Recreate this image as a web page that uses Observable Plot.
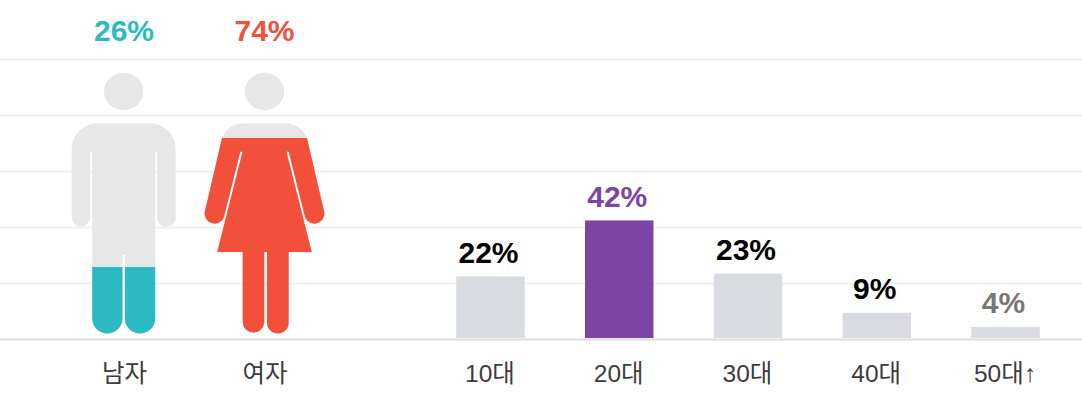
<!DOCTYPE html>
<html>
<head>
<meta charset="utf-8">
<script src="https://cdn.jsdelivr.net/npm/d3@7"></script>
<script src="https://cdn.jsdelivr.net/npm/@observablehq/plot@0.6"></script>
<style>
html,body{margin:0;padding:0;background:#fff;}
#chart{display:flex;width:1082px;height:406px;overflow:hidden;}
#chart svg{display:block;flex:none;}
</style>
</head>
<body>
<div id="chart"></div>
<script>
const genderCats = ["남자", "여자"];
const genderShares = [26, 74];
const genderColors = ["#2bbac4", "#f2503b"];
const ageCats = ["10대", "20대", "30대", "40대", "50대↑"];
const ageShares = [22, 42, 23, 9, 4];
const ageBarColors = ["#d8dce0", "#7d44a8", "#d8dce0", "#d8dce0", "#d8dce0"];
const ageLabelColors = ["#000000", "#7d44a8", "#000000", "#000000", "#777777"];
const gridTicks = [20, 40, 60, 80, 100];

const H = 406, TOP = 59, BOTTOM = 67;
const ICON_GREY = "#e7e7e7";
const FONT = "'Liberation Sans','Noto Sans CJK KR',sans-serif";

// Pictogram glyphs: x from the icon centre, y from the origin placed by iconOrigin.
const head = "M-19.7,91.5a19.7,18.7 0 1,0 39.4,0a19.7,18.7 0 1,0 -39.4,0Z";
const glyphs = {
  "남자": head + "M-52,149.3A26,26 0 0 1 -26,123.3H26A26,26 0 0 1 52,149.3V217.5A9.25,9.25 0 0 1 33.5,217.5V151.7H31.5V318.4A15.15,15.15 0 0 1 1.2,318.4V255H-1.2V318.4A15.15,15.15 0 0 1 -31.5,318.4V151.7H-33.5V217.5A9.25,9.25 0 0 1 -52,217.5Z",
  "여자": head + "M-20,123.3H20C30,123.3 38,128 42.5,138L59.7,211.6A10,10 0 0 1 40.3,216.4L24.2,151.7H22L47.3,252H24.2V322.7A10.85,10.85 0 0 1 2.5,322.7V252H-0.2V322.7A10.85,10.85 0 0 1 -21.8,322.7V252H-47.3L-22,151.7H-24.2L-40.3,216.4A10,10 0 0 1 -59.7,211.6L-42.5,138C-38,128 -30,123.3 -20,123.3Z"
};
const iconOrigin = 121.07;   // y value where glyph y = 0
const iconZero = 0.75, iconUnit = 0.96; // pictogram fill scale, in y units per percent

const yScale = {domain: [0, 100], axis: null};
const grid = () => Plot.ruleY(gridTicks, {stroke: "#f0f0f2", strokeWidth: 2});
const base = () => Plot.ruleY([0], {stroke: "#dedede", strokeWidth: 2});
const axis = (dx) => Plot.axisX({tickSize: 0, tickPadding: 25, fontSize: 24.5, fill: "#3c3c3c", label: null, dx});
const style = {fontFamily: FONT, background: "#fff", overflow: "hidden"};

function pictograms(index, scales) {
  const ns = "http://www.w3.org/2000/svg";
  const g = document.createElementNS(ns, "g");
  const step = scales.x(genderCats[1]) - scales.x(genderCats[0]);
  genderCats.forEach((cat, i) => {
    const cx = scales.x(cat) + step / 2 - (i === 0 ? 0.3 : 0);
    const oy = scales.y(iconOrigin);
    const grey = document.createElementNS(ns, "path");
    grey.setAttribute("d", glyphs[cat]);
    grey.setAttribute("fill", ICON_GREY);
    grey.setAttribute("transform", `translate(${cx},${oy})`);
    g.appendChild(grey);
    const clip = document.createElementNS(ns, "clipPath");
    clip.setAttribute("id", "fill-" + i);
    const rect = document.createElementNS(ns, "rect");
    const level = scales.y(iconZero + genderShares[i] * iconUnit);
    rect.setAttribute("x", cx - 80);
    rect.setAttribute("width", 160);
    rect.setAttribute("y", level);
    rect.setAttribute("height", scales.y(0) - level);
    clip.appendChild(rect);
    g.appendChild(clip);
    const wrap = document.createElementNS(ns, "g");
    wrap.setAttribute("clip-path", `url(#fill-${i})`);
    const col = document.createElementNS(ns, "path");
    col.setAttribute("d", glyphs[cat]);
    col.setAttribute("fill", genderColors[i]);
    col.setAttribute("transform", `translate(${cx},${oy})`);
    wrap.appendChild(col);
    g.appendChild(wrap);
  });
  return g;
}

const left = Plot.plot({
  width: 400, height: H, marginTop: TOP, marginBottom: BOTTOM, marginLeft: 0, marginRight: 0,
  style,
  x: {type: "band", domain: genderCats, range: [53.75, 334.75], padding: 0, round: false},
  y: yScale,
  color: {type: "identity"},
  marks: [
    grid(),
    base(),
    pictograms,
    axis(0),
    Plot.text(genderCats, {
      x: genderCats,
      y: genderCats.map(() => 106.6),
      text: genderShares.map(v => v + "%"),
      fill: genderColors,
      fontSize: 30, fontWeight: "bold", lineAnchor: "bottom", stroke: "none",
      letterSpacing: "-0.5px", dx: -0.5
    })
  ]
});

const right = Plot.plot({
  width: 682, height: H, marginTop: TOP, marginBottom: BOTTOM, marginLeft: 0, marginRight: 0,
  style,
  x: {type: "band", domain: ageCats, range: [26.125, 669.875], paddingInner: 0.468, paddingOuter: 0.234, round: false},
  y: yScale,
  color: {type: "identity"},
  marks: [
    grid(),
    Plot.barY(ageCats, {x: ageCats, y: ageShares, fill: ageBarColors, dy: -1}),
    base(),
    axis(-1),
    Plot.text(ageCats, {
      x: ageCats,
      y: ageShares,
      text: ageShares.map(v => v + "%"),
      fill: ageLabelColors,
      fontSize: 30, fontWeight: "bold", lineAnchor: "bottom", dy: -15.3, dx: -2.5, stroke: "none",
      letterSpacing: "-0.5px"
    })
  ]
});

document.getElementById("chart").append(left, right);
</script>
</body>
</html>
